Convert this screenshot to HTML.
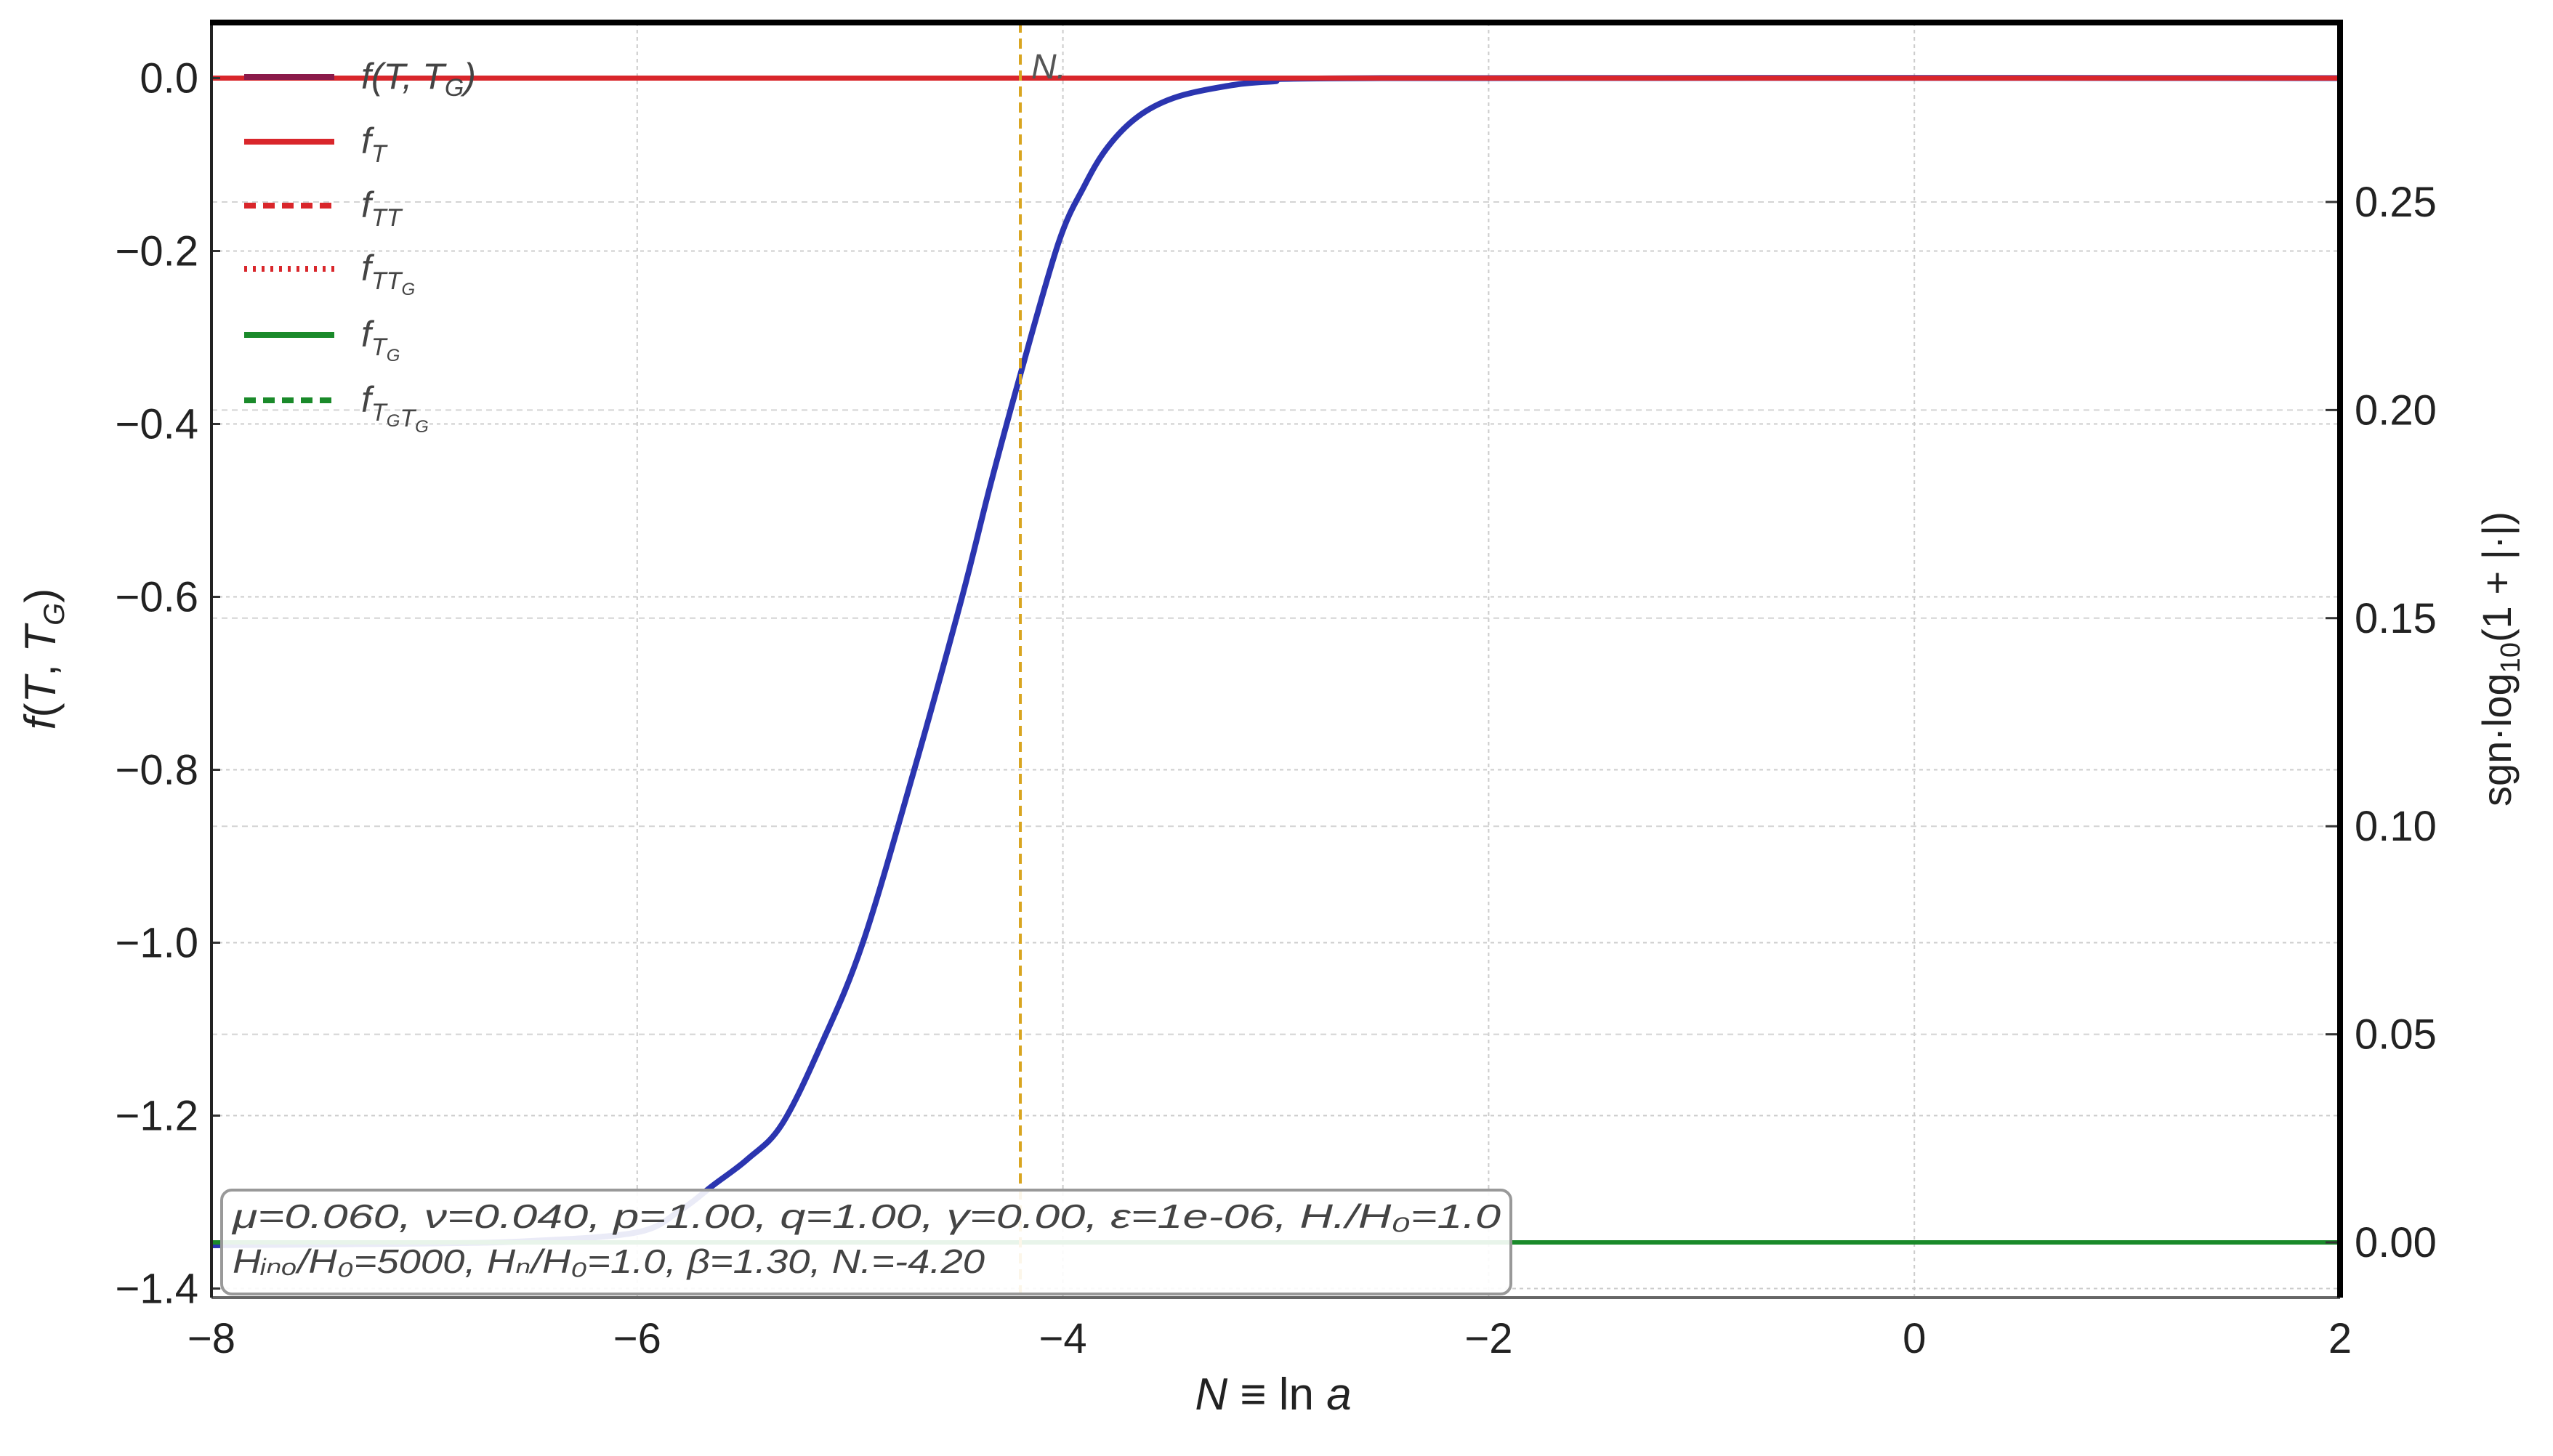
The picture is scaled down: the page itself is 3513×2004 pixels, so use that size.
<!DOCTYPE html>
<html><head><meta charset="utf-8"><style>
html,body{margin:0;padding:0;background:#fff;}
svg{display:block;font-family:"Liberation Sans","DejaVu Sans",sans-serif;}
</style></head><body>
<svg id="chart" width="3513" height="2004" viewBox="0 0 3513 2004" xmlns="http://www.w3.org/2000/svg">
<g id="grid"></g>
<g id="series"></g>
<g id="axes"></g>
<g id="legend"></g>
</svg>
<script>
const xTicks=[-8,-6,-4,-2,0,2];
const yLeftTicks=[0.0,-0.2,-0.4,-0.6,-0.8,-1.0,-1.2,-1.4];
const yRightTicks=[0.00,0.05,0.10,0.15,0.20,0.25];
const fN=[-8,-7,-6.5,-6,-5.8,-5.64,-5.48,-5.32,-5.13,-4.94,-4.71,-4.48,-4.34,-4.2,-4.02,-3.9,-3.79,-3.65,-3.48,-3.25,-3.02,-2.5,2];
const fVal=[-1.35,-1.348,-1.345,-1.335,-1.31,-1.28,-1.25,-1.21,-1.115,-1.0,-0.81,-0.606,-0.47,-0.343,-0.19,-0.125,-0.08,-0.045,-0.023,-0.01,-0.004,0,0];
const fTN=[-8,2];
const fTVal=[0,0];
const fTGN=[-8,2];
const fTGVal=[0,0];
const nStar=[-4.2];

const NS="http://www.w3.org/2000/svg";
const L=291,R=3220,T=31,B=1786;
function xs(v){return L+(v+8)/10*(R-L);}
function yl(v){return 107.5+(-v)/0.2*238;}
function yr(v){return 1710-v/0.05*286.4;}
function mk(tag,attrs,parent){const e=document.createElementNS(NS,tag);for(const k in attrs)e.setAttribute(k,attrs[k]);parent.appendChild(e);return e;}
const grid=document.getElementById('grid'),series=document.getElementById('series'),axes=document.getElementById('axes'),legend=document.getElementById('legend');

xTicks.forEach(t=>{const x=xs(t);
 const g=mk('line',{x1:x,x2:x,y1:T,y2:B,stroke:'#ccc','stroke-width':2,'stroke-dasharray':'5 5'},grid);
 
 
 const tl=mk('text',{x:x,y:B+76,'font-size':58,fill:'#222','text-anchor':'middle'},axes);
 tl.textContent=(t<0?'\u2212'+(-t):''+t);
 
 
});
yLeftTicks.forEach(t=>{const y=yl(t);
 const g=mk('line',{x1:L,x2:R,y1:y,y2:y,stroke:'#ccc','stroke-width':2,'stroke-dasharray':'5 5'},grid);
 
 
 mk('line',{x1:L,x2:L+12,y1:y,y2:y,stroke:'#333','stroke-width':3},axes);
 const tl=mk('text',{x:L-18,y:y+20,'font-size':58,fill:'#222','text-anchor':'end'},axes);
 tl.textContent=(t<0?'\u2212':'')+Math.abs(t).toFixed(1);
 
 
});
yRightTicks.forEach(t=>{const y=yr(t);
 const g=mk('line',{x1:L,x2:R,y1:y,y2:y,stroke:'#d4d4d4','stroke-width':2,'stroke-dasharray':'8 6'},grid);
 
 
 mk('line',{x1:R-20,x2:R,y1:y,y2:y,stroke:'#333','stroke-width':3},axes);
 const tl=mk('text',{x:R+20,y:y+20,'font-size':58,fill:'#222'},axes);
 tl.textContent=t.toFixed(2);
 
 
});

function path(xsArr,ysArr,yf,attrs,name,smooth){
 const P=xsArr.map((v,i)=>[xs(v),yf(ysArr[i])]);
 let d='M'+P[0][0].toFixed(1)+','+P[0][1].toFixed(1);
 for(let i=0;i<P.length-1;i++){
  if(!smooth){d+='L'+P[i+1][0].toFixed(1)+','+P[i+1][1].toFixed(1);continue;}
  const p0=P[Math.max(0,i-1)],p1=P[i],p2=P[i+1],p3=P[Math.min(P.length-1,i+2)];
  const c1=[p1[0]+(p2[0]-p0[0])/6,p1[1]+(p2[1]-p0[1])/6];
  const c2=[p2[0]-(p3[0]-p1[0])/6,p2[1]-(p3[1]-p1[1])/6];
  d+='C'+c1[0].toFixed(1)+','+c1[1].toFixed(1)+' '+c2[0].toFixed(1)+','+c2[1].toFixed(1)+' '+p2[0].toFixed(1)+','+p2[1].toFixed(1);
 }
 const p=mk('path',Object.assign({d:d,fill:'none'},attrs),series);
 
 
 return p;
}
path(fN,fVal,yl,{stroke:'#2b35b0','stroke-width':8,'stroke-linejoin':'round'},'f-line',true);
path(fTGN,fTGVal,yr,{stroke:'#1a8a2a','stroke-width':6},'f-tg-line',false);
path(fTN,fTVal,yl,{stroke:'#d9262b','stroke-width':7},'f-t-line',false);
nStar.forEach(n=>{
 const v=mk('line',{x1:xs(n),x2:xs(n),y1:T,y2:B,stroke:'#d9a520','stroke-width':4,'stroke-dasharray':'14 8'},series);
 
 
 const t=mk('text',{x:xs(n)+15,y:108,'font-size':48,'font-style':'italic',fill:'#555'},series);
 t.textContent='N.';
 
 
});

/* frame */
mk('line',{x1:L,x2:R,y1:B,y2:B,stroke:'#666','stroke-width':4},axes);
mk('line',{x1:L,x2:L,y1:T,y2:B,stroke:'#222','stroke-width':4},axes);
mk('line',{x1:L-2,x2:R+4,y1:T,y2:T,stroke:'#000','stroke-width':8},axes);
mk('line',{x1:R,x2:R,y1:T,y2:B,stroke:'#000','stroke-width':8},axes);

/* param box */
const box=mk('rect',{x:305,y:1638,width:1774,height:143,rx:14,fill:'rgba(255,255,255,0.9)',stroke:'#999','stroke-width':4},axes);


const t1=mk('text',{x:320,y:1690,'font-size':46,'font-style':'italic',fill:'#444',textLength:1745,lengthAdjust:'spacingAndGlyphs'},axes);
t1.textContent='\u03bc=0.060,  \u03bd=0.040,  p=1.00,  q=1.00,  \u03b3=0.00,  \u03b5=1e-06,  H./H\u2080=1.0';


const t2=mk('text',{x:320,y:1752,'font-size':46,'font-style':'italic',fill:'#444',textLength:1035,lengthAdjust:'spacingAndGlyphs'},axes);
t2.textContent='H\u1d62\u2099\u2092/H\u2080=5000,  H\u2099/H\u2080=1.0,  \u03b2=1.30,  N.=-4.20';



/* axis titles */
const xl=mk('text',{x:1752,y:1940,'font-size':62,fill:'#222','text-anchor':'middle'},axes);
xl.innerHTML='<tspan font-style="italic">N</tspan> \u2261 ln <tspan font-style="italic">a</tspan>';


const ylb=mk('text',{x:0,y:0,'font-size':60,fill:'#222','text-anchor':'middle',transform:'translate(76,907) rotate(-90)'},axes);
ylb.innerHTML='<tspan font-style="italic">f</tspan>(<tspan font-style="italic">T</tspan>, <tspan font-style="italic">T</tspan><tspan font-size="40" dy="12" font-style="italic">G</tspan><tspan dy="-12">)</tspan>';


const yrb=mk('text',{x:0,y:0,'font-size':56,fill:'#222','text-anchor':'middle',transform:'translate(3455,907) rotate(-90)'},axes);
yrb.innerHTML='sgn\u00b7log<tspan font-size="38" dy="12">10</tspan><tspan dy="-12">(1 + |\u00b7|)</tspan>';



/* legend */
const leg=[['f(T, T','G',')','#8b1a4a','none'],['f','T','','#d9262b','none'],['f','TT','','#d9262b','16 10'],['f','TT_G','','#d9262b','4 8'],['f','T_G','','#1a8a2a','none'],['f','T_GT_G','','#1a8a2a','16 10']];
const legY=[106,195,283,370,461,551];
leg.forEach((e,i)=>{const y=legY[i];
 const ln=mk('line',{x1:336,x2:460,y1:y,y2:y,stroke:e[3],'stroke-width':8,'stroke-dasharray':e[4]},legend);
 
 
 const tx=mk('text',{x:497,y:y+16,'font-size':50,'font-style':'italic',fill:'#444'},legend);
 if(i===0){tx.innerHTML='f(T, T<tspan font-size="34" dy="10">G</tspan><tspan dy="-10">)</tspan>';}
 else{tx.innerHTML='f<tspan font-size="34" dy="12">'+e[1].replace(/_G/g,'<tspan font-size="24" dy="8">G</tspan><tspan dy="-8"></tspan>')+'</tspan>';}
 
 
});
</script>
</body></html>
